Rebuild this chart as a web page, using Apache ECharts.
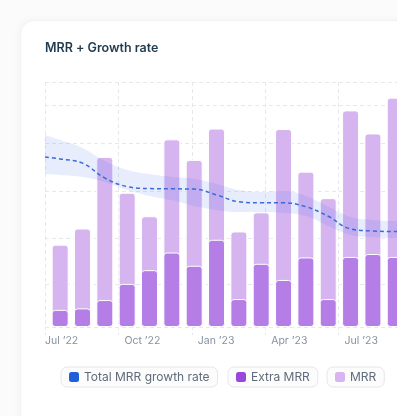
<!DOCTYPE html>
<html><head><meta charset="utf-8">
<script src="https://cdn.jsdelivr.net/npm/echarts@6/dist/echarts.min.js"></script>
<style>
html,body{margin:0;padding:0;width:397px;height:416px;overflow:hidden;background:#fbfbfc;}
#card{position:absolute;left:20px;top:20px;width:440px;height:440px;background:#fff;border-radius:14px;border:1px solid #f1f2f4;box-shadow:0 1px 8px rgba(16,24,40,0.05);}
#chart{position:absolute;left:0;top:0;width:420px;height:416px;}
</style></head><body>
<div id="card"></div><div id="chart"></div>
<script>
// bars every 4 weeks
const barDates = ['2022-07-20','2022-08-17','2022-09-14','2022-10-12','2022-11-09','2022-12-07','2023-01-04','2023-02-01',
                  '2023-03-01','2023-03-29','2023-04-26','2023-05-24','2023-06-21','2023-07-19','2023-08-16','2023-09-13'];
// $k
const extraMRR = [3.5,3.8,5.5,8.8,11.6,15.2,12.5,17.8,5.7,12.9,9.6,14.2,5.7,14.3,14.9,14.3];
const mrr      = [13.3,16.3,29.2,18.6,11.0,23.1,21.6,22.7,13.8,10.5,30.8,17.5,20.6,29.9,24.6,32.5];
// growth rate (%), with confidence band
const rateDates = ['2022-07-01','2022-07-20','2022-08-17','2022-09-14','2022-10-12','2022-11-09','2022-12-07','2023-01-04','2023-02-01',
                   '2023-03-01','2023-03-29','2023-04-26','2023-05-24','2023-06-21','2023-07-19','2023-08-16','2023-09-13','2023-10-04'];
const growthRate = [6.94,6.86,6.69,6.08,5.73,5.65,5.64,5.63,5.39,5.11,5.07,5.07,4.91,4.52,4.00,3.92,3.90,3.90];
const rateUpper  = [7.84,7.63,7.31,6.78,6.41,6.24,6.12,6.04,5.84,5.59,5.51,5.55,5.35,4.92,4.49,4.37,4.33,4.33];
const rateLower  = [6.24,6.20,6.12,5.92,5.59,5.35,5.18,4.94,4.78,4.69,4.69,4.65,4.53,4.12,3.76,3.67,3.63,3.63];
// quarter grid (every 92 days from 1 Jul 2022)
const startDate = '2022-07-01';
const quarterLabels = ["Jul \u201922","Oct \u201922","Jan \u201923","Apr \u201923","Jul \u201923","Oct \u201923"];
const gridValues = [0,8.8,18.2,27.8,37.6,45.3,50];

const FONT = 'Inter';
const gridColor = '#e6e8ec';
const chart = echarts.init(document.getElementById('chart'), null, {renderer:'canvas'});
const pair = (xs, ys) => ys.map((v,i)=>[xs[i], v]);
const dayOf = (d) => Math.round((Date.parse(d) - Date.parse(startDate)) / 86400000);
const barDays = barDates.map(dayOf);
const mrrTotal = mrr.map((v,i)=>+(v+extraMRR[i]).toFixed(2));
const legendCommon = {
  top: 367, orient:'horizontal', padding:[4,8], itemWidth:10, itemHeight:10, icon:'roundRect',
  backgroundColor:'#fcfcfd', borderColor:'#e3e6ea', borderWidth:1, borderRadius:6,
  textStyle:{fontFamily:FONT, fontSize:12, color:'#5f6b7a'}
};
chart.setOption({
  animation:false,
  title:{text:'MRR + Growth rate', left:45, top:42, padding:0,
    textStyle:{fontFamily:FONT, fontSize:12.5, fontWeight:600, color:'#1f3b52'}},
  legend:[
    Object.assign({left:61, data:[{name:'Total MRR growth rate', itemStyle:{color:'#1f5fd9', borderWidth:0}, lineStyle:{width:0}}]}, legendCommon),
    Object.assign({left:228, data:[{name:'Extra MRR', itemStyle:{color:'#9b47dd', borderWidth:0}}]}, legendCommon),
    Object.assign({left:327, data:[{name:'MRR', itemStyle:{color:'#d6b5f2', borderWidth:0}}]}, legendCommon)
  ],
  grid:{left:45, top:82, bottom:89, right:8, containLabel:false, outerBoundsMode:'none'},
  xAxis:[
    {type:'time', min:startDate, max:'2023-10-04', show:false, splitLine:{show:false}},
    {type:'value', position:'bottom', min:0, max:460, interval:92,
     axisLine:{show:false},
     axisTick:{show:true, length:8, lineStyle:{color:gridColor, type:[3,3]}},
     splitLine:{show:true, lineStyle:{color:gridColor, type:[4,3]}},
     axisLabel:{margin:8, align:'left', showMaxLabel:false, fontFamily:FONT, fontSize:10.5, color:'#8592a1',
       formatter:(v)=>{const i=Math.round(v/92); const t=quarterLabels[i]||''; return i===0?'{f|'+t+'}':'{o|'+t+'}';},
       rich:{f:{fontFamily:FONT,fontSize:10.5,color:'#8592a1'}, o:{fontFamily:FONT,fontSize:10.5,color:'#8592a1',padding:[0,0,0,6]}}}
    }
  ],
  yAxis:[
    {type:'value', min:0, max:50, axisLabel:{show:false}, axisLine:{show:false},
     axisTick:{show:false, customValues:gridValues},
     splitLine:{show:true, lineStyle:{color:gridColor, type:[4,3]}}},
    {type:'value', min:0, max:10, axisLabel:{show:false}, axisLine:{show:false}, axisTick:{show:false}, splitLine:{show:false}}
  ],
  series:[
    {name:'MRR', type:'bar', xAxisIndex:1, barWidth:17, barGap:'-100%', data:pair(barDays, mrrTotal),
     itemStyle:{color:'#d5b4f0', borderColor:'#ffffff', borderWidth:1, borderRadius:3}},
    {name:'Extra MRR', type:'bar', xAxisIndex:1, barWidth:17, barGap:'-100%', data:pair(barDays, extraMRR),
     itemStyle:{color:'#b47ee6', borderColor:'#ffffff', borderWidth:1, borderRadius:3}},
    {name:'bandLower', type:'line', xAxisIndex:0, yAxisIndex:1, stack:'band', smooth:0.4, symbol:'none', silent:true,
     data:pair(rateDates, rateLower), lineStyle:{opacity:0}},
    {name:'bandUpper', type:'line', xAxisIndex:0, yAxisIndex:1, stack:'band', smooth:0.4, symbol:'none', silent:true,
     data:pair(rateDates, rateUpper.map((v,i)=>+(v-rateLower[i]).toFixed(2))), lineStyle:{opacity:0},
     areaStyle:{color:'rgba(60,110,230,0.18)'}},
    {name:'Total MRR growth rate', type:'line', xAxisIndex:0, yAxisIndex:1, smooth:0.4, symbol:'none',
     data:pair(rateDates, growthRate), itemStyle:{color:'#1f5fd9'},
     lineStyle:{color:'#3b6bd6', width:1.5, type:[4,3]}}
  ]
});
</script>
</body></html>
